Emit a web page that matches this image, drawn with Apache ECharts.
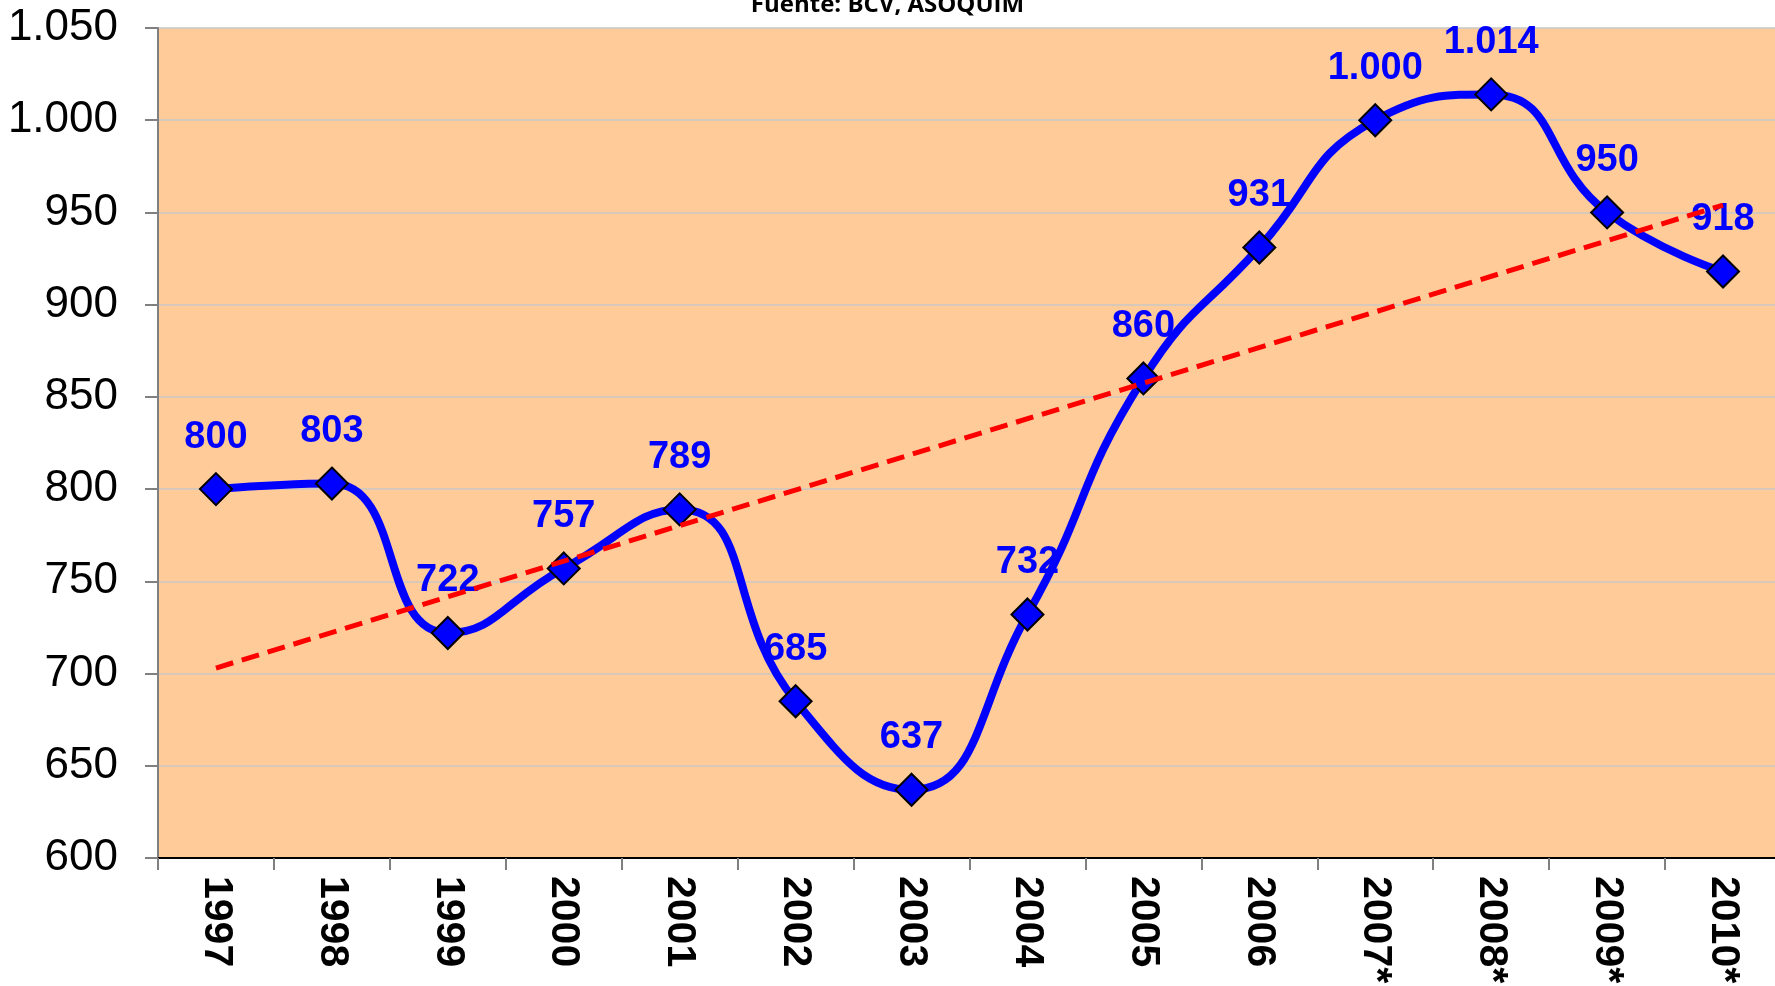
<!DOCTYPE html>
<html>
<head>
<meta charset="utf-8">
<script src="https://cdn.jsdelivr.net/npm/echarts@6/dist/echarts.min.js"></script>
<style>
  html, body { margin: 0; padding: 0; background: #fff; }
  #main { width: 1775px; height: 986px; }
</style>
</head>
<body>
<div id="main"></div>
<script>
var years = ['1997', '1998', '1999', '2000', '2001', '2002', '2003', '2004', '2005', '2006', '2007*', '2008*', '2009*', '2010*'];
var values = [800, 803, 722, 757, 789, 685, 637, 732, 860, 931, 1000, 1014, 950, 918];
// trend line end points (1997 and 2010*)
var trendStart = 703;
var trendEnd = 954;

function fmt(v) {
    var s = String(Math.round(v));
    if (s.length > 3) s = s.slice(0, s.length - 3) + '.' + s.slice(s.length - 3);
    return s;
}

var chart = echarts.init(document.getElementById('main'));

var option = {
    animation: false,
    title: {
        text: 'Fuente: BCV, ASOQUIM',
        left: 'center',
        top: -12,
        textStyle: { fontFamily: 'Open Sans', fontWeight: 'bold', fontSize: 24, color: '#000' }
    },
    grid: {
        left: 158,
        top: 28,
        width: 1623,
        bottom: 128,
        outerBoundsMode: 'none',
        show: true,
        backgroundColor: '#FFCC99',
        borderWidth: 0
    },
    xAxis: {
        type: 'category',
        data: years,
        boundaryGap: true,
        axisLine: { lineStyle: { color: '#000', width: 2 } },
        axisTick: { show: true, length: 12, lineStyle: { color: '#808080', width: 2 } },
        axisLabel: {
            rotate: -90,
            margin: 18,
            fontFamily: 'Arial, Liberation Sans',
            fontWeight: 'bold',
            fontSize: 41,
            color: '#000'
        }
    },
    yAxis: {
        type: 'value',
        min: 600,
        max: 1050,
        interval: 50,
        axisLine: { show: true, lineStyle: { color: '#808080', width: 2 } },
        axisTick: { show: true, inside: false, length: 13, lineStyle: { color: '#808080', width: 2 } },
        splitLine: { lineStyle: { color: '#c8c8c8', width: 1.5 } },
        axisLabel: {
            margin: 40,
            fontFamily: 'Arial, Liberation Sans',
            fontSize: 44,
            color: '#000',
            formatter: fmt
        }
    },
    series: [
        {
            type: 'line',
            data: values,
            smooth: 0.5,
            z: 3,
            lineStyle: { color: '#0000FF', width: 8 },
            symbol: 'diamond',
            symbolSize: 32,
            itemStyle: { color: '#0000FF', borderColor: '#000', borderWidth: 2 },
            label: {
                show: true,
                position: 'top',
                distance: 16,
                fontFamily: 'Arial, Liberation Sans',
                fontWeight: 'bold',
                fontSize: 38,
                color: '#0000FF',
                formatter: function (p) { return fmt(p.value); }
            }
        },
        {
            type: 'line',
            data: [[0, trendStart], [years.length - 1, trendEnd]],
            z: 4,
            symbol: 'none',
            silent: true,
            lineStyle: { color: '#FF0000', width: 5, type: [18, 9] }
        }
    ]
};

chart.setOption(option);
</script>
</body>
</html>
